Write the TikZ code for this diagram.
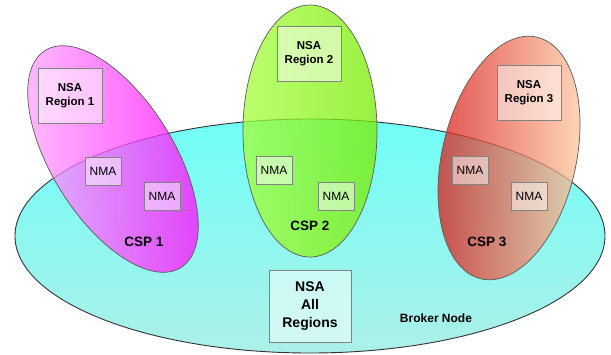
\documentclass[tikz,border=0pt]{standalone}
\usepackage{fontspec}
\setmainfont{Liberation Sans}
\usetikzlibrary{shapes.geometric}
\definecolor{brokertop}{RGB}{112,255,248}
\definecolor{brokerbot}{RGB}{172,240,232}
\definecolor{boxline}{RGB}{130,130,130}
\definecolor{ovline}{RGB}{90,90,90}
\tikzset{
  cspshape/.style={draw=ovline, line width=0.7pt, fill opacity=0.75},
  regionbox/.style={draw=boxline, line width=0.9pt, fill=white, fill opacity=0.5, text opacity=1,
     minimum width=64pt, minimum height=55pt, align=center, font=\bfseries\fontsize{11.5}{14}\selectfont},
  nmabox/.style={draw=boxline, line width=0.9pt, fill=white, fill opacity=0.5, text opacity=1,
     minimum width=36pt, minimum height=28pt, font=\fontsize{12}{14}\selectfont},
  csplabel/.style={font=\bfseries\fontsize{13.5}{16}\selectfont},
}
\begin{document}
\begin{tikzpicture}[x=1pt,y=-1pt]
\useasboundingbox (0,0) rectangle (611,354);
% Broker ellipse
\shade[top color=brokertop, bottom color=brokerbot, draw=black!80, line width=0.9pt]
  (310,236) ellipse [x radius=295, y radius=117];
% CSP ellipses
\shade[cspshape, rotate around={32:(113,159)}, left color={rgb,255:red,255;green,170;blue,255}, right color={rgb,255:red,255;green,0;blue,255}]
  (113,159) ellipse [x radius=61, y radius=128];
\shade[cspshape, left color={rgb,255:red,165;green,255;blue,60}, right color={rgb,255:red,120;green,235;blue,0}]
  (310,131) ellipse [x radius=67, y radius=126];
\shade[cspshape, rotate around={-13:(509,158)}, left color={rgb,255:red,215;green,15;blue,15}, right color={rgb,255:red,255;green,210;blue,165}]
  (509,158) ellipse [x radius=67, y radius=124];
% Region boxes
\node[regionbox] (nsa1) at (70,96) {NSA\\Region 1};
\node[regionbox] (nsa2) at (309,54) {NSA\\Region 2};
\node[regionbox] (nsa3) at (529,93) {NSA\\Region 3};
\node[nmabox] (nma1a) at (103,171) {NMA};
\node[nmabox] (nma1b) at (162,196) {NMA};
\node[nmabox] (nma2a) at (274,170) {NMA};
\node[nmabox] (nma2b) at (336,196) {NMA};
\node[nmabox] (nma3a) at (470,170) {NMA};
\node[nmabox] (nma3b) at (529,196) {NMA};
\node[csplabel] (csp1) at (144,242) {CSP 1};
\node[csplabel] (csp2) at (310,226) {CSP 2};
\node[csplabel] (csp3) at (487,242) {CSP 3};
\node[regionbox, minimum width=82pt, minimum height=72pt, font=\bfseries\fontsize{14}{18}\selectfont] (nsaall) at (310,306) {NSA\\All\\Regions};
\node[font=\bfseries\fontsize{12}{14}\selectfont] (broker) at (436,318) {Broker Node};
\end{tikzpicture}
\end{document}
